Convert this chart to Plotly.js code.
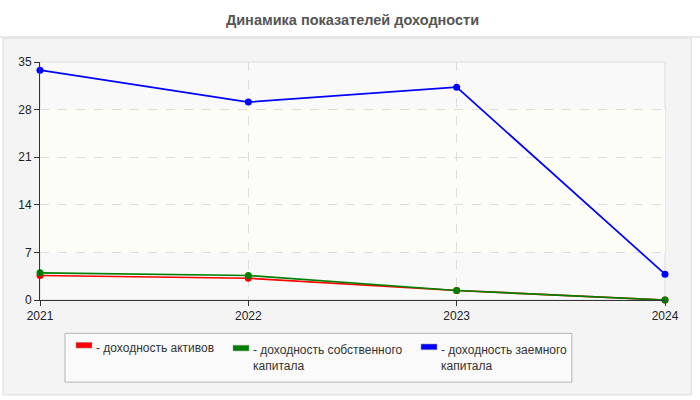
<!DOCTYPE html>
<html>
<head>
<meta charset="utf-8">
<script src="https://cdn.plot.ly/plotly-3.0.1.min.js"></script>
<style>html,body{margin:0;padding:0;background:#fff;}#chart{width:700px;height:400px;}</style>
</head>
<body>
<div id="chart"></div>
<script>
const years = ['2021', '2022', '2023', '2024'];
const roa = [3.6, 3.2, 1.4, 0.0];
const roe = [4.0, 3.6, 1.4, 0.0];
const rod = [33.8, 29.1, 31.3, 3.8];
const seriesNames = ['- доходность активов', '- доходность собственного<br>капитала', '- доходность заемного<br>капитала'];
const seriesColors = ['#ff0000', '#008000', '#0000ff'];
const yTicks = [0, 7, 14, 21, 28, 35];
const titleText = 'Динамика показателей доходности';

const seriesData = [roa, roe, rod];
const order = [2, 0, 1];
const traces = order.map(i => ({
  x: years.map(Number),
  y: seriesData[i],
  type: 'scatter',
  mode: 'lines+markers',
  name: seriesNames[i].replace('<br>', ' '),
  line: {color: seriesColors[i], width: 1.7},
  marker: {color: seriesColors[i], size: 7},
  cliponaxis: false,
  showlegend: false,
  hoverinfo: 'x+y'
}));

const shapes = [
  {type: 'rect', xref: 'paper', yref: 'paper', x0: -0.0592, x1: 1.042, y0: -0.399, y1: 1.1,
   fillcolor: '#f4f4f4', line: {color: '#dcdcdc', width: 1}, layer: 'below'},
  {type: 'line', xref: 'paper', yref: 'paper', x0: -0.064, x1: 1.056, y0: 1.105, y1: 1.105,
   line: {color: '#e8e8e8', width: 2}, layer: 'below'},
  {type: 'rect', xref: 'paper', yref: 'paper', x0: 0, x1: 1, y0: 0, y1: 1,
   fillcolor: '#f9f9f9', line: {color: '#dddddd', width: 1}, layer: 'below'},
  {type: 'rect', xref: 'paper', yref: 'y', x0: 0, x1: 1, y0: 7, y1: 28,
   fillcolor: '#fdfdf7', line: {width: 0}, layer: 'below'},
  {type: 'rect', xref: 'paper', yref: 'paper', x0: 0.04, x1: 0.851, y0: -0.345, y1: -0.14,
   fillcolor: '#fafafa', line: {color: '#b4b4b4', width: 1}, layer: 'above'}
];

const swatchX = [0.0576, 0.3088, 0.6096];
const textY = [-0.162, -0.172, -0.172];
const swatchY = [-0.178, -0.19, -0.185];
const annotations = [];
[0, 1, 2].forEach(i => {
  shapes.push({type: 'rect', xref: 'paper', yref: 'paper',
    x0: swatchX[i], x1: swatchX[i] + 0.0256, y0: swatchY[i] - 0.024, y1: swatchY[i],
    fillcolor: seriesColors[i], line: {color: '#999', width: 0.5}, layer: 'above'});
  annotations.push({xref: 'paper', yref: 'paper', x: swatchX[i] + 0.029, y: textY[i],
    xanchor: 'left', yanchor: 'top', align: 'left', showarrow: false,
    text: seriesNames[i], font: {family: 'Liberation Sans, Arial, sans-serif', size: 12, color: '#333'}});
});

const layout = {
  width: 700, height: 400,
  margin: {l: 40, r: 35, t: 62, b: 100},
  paper_bgcolor: '#ffffff',
  plot_bgcolor: 'rgba(0,0,0,0)',
  title: {text: '<b>' + titleText + '</b>', x: 0.5, xref: 'paper', y: 0.95, yanchor: 'middle',
    font: {family: 'Liberation Sans, Arial, sans-serif', size: 14.5, color: '#555'}},
  font: {family: 'Liberation Sans, Arial, sans-serif', size: 12, color: '#222'},
  xaxis: {
    range: [2021, 2024], tickvals: years.map(Number), ticktext: years,
    showline: true, linecolor: '#333', linewidth: 1,
    ticks: 'outside', ticklen: 5, tickcolor: '#333',
    showgrid: true, gridcolor: '#dddddd', griddash: 'dash', gridwidth: 1,
    zeroline: false, fixedrange: true,
    tickfont: {size: 12, color: '#222'}
  },
  yaxis: {
    range: [0, 35], tickvals: yTicks,
    showline: true, linecolor: '#333', linewidth: 1,
    ticks: 'outside', ticklen: 5, tickcolor: '#333',
    showgrid: true, gridcolor: '#dddddd', griddash: 'dash', gridwidth: 1,
    zeroline: false, fixedrange: true,
    tickfont: {size: 12, color: '#222'}
  },
  shapes: shapes,
  annotations: annotations,
  showlegend: false
};

Plotly.newPlot('chart', traces, layout, {displayModeBar: false, staticPlot: true});
</script>
</body>
</html>
